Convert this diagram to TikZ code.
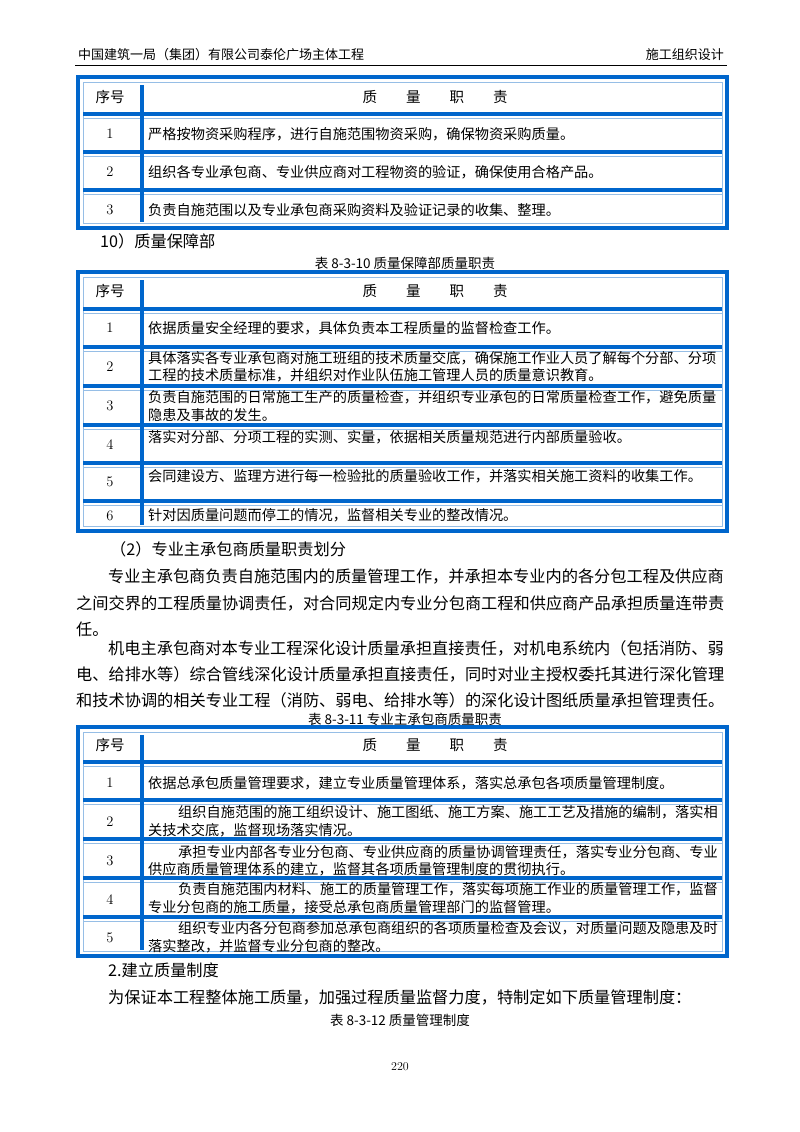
\documentclass[tikz,border=0pt]{standalone}
\usepackage{fontspec}
\newfontfamily\cjk{Noto Sans CJK SC}
\definecolor{tb}{RGB}{0,102,204}
\definecolor{tl}{RGB}{150,190,230}
\newcommand\mytable[3]{%
  \draw[tb,line width=3.5pt] (78,#1) rectangle (727,#2);
  \draw[tl,line width=0.7pt] (83,#1+5) rectangle (722,#2-5);
  \foreach \yy in {#3} {\draw[tb,line width=3.5pt] (83,\yy) -- (722,\yy);
    \draw[tl,line width=0.6pt] (83,\yy+4) -- (722,\yy+4);}
  \draw[tb,line width=3.5pt] (142,#1+8) -- (142,#2-6);
}
\begin{document}
\begin{tikzpicture}[x=1pt,y=-1pt,
  tt/.style={anchor=west,font=\cjk\fontsize{14.2}{18}\selectfont,inner sep=0},
  nn/.style={anchor=center,font=\fontsize{14.5}{18}\selectfont,inner sep=0},
  bt/.style={anchor=west,font=\cjk\fontsize{16.2}{20}\selectfont,inner sep=0},
  captxt/.style={anchor=center,font=\cjk\fontsize{13.5}{16}\selectfont,inner sep=0}]
\useasboundingbox[fill=white] (0,0) rectangle (800,1132);
% header
\node[anchor=west,font=\cjk\fontsize{13}{16}\selectfont,inner sep=0] (h1) at (78,55) {中国建筑一局（集团）有限公司泰伦广场主体工程};
\node[anchor=east,font=\cjk\fontsize{13}{16}\selectfont,inner sep=0] (h2) at (724,55) {施工组织设计};
\draw[line width=0.6pt] (75,65) -- (727,65);
% table 1
\mytable{77}{228}{114,152,190}
\node[nn] (t1h) at (110,97) {\cjk 序号};
\node[nn] (t1q) at (435,97) {\cjk 质\hspace{2em}量\hspace{2em}职\hspace{2em}责};
\node[nn] (t1n1) at (110,134) {1}; \node[tt] (t1r1) at (148,134) {严格按物资采购程序，进行自施范围物资采购，确保物资采购质量。};
\node[nn] (t1n2) at (110,172) {2}; \node[tt] (t1r2) at (148,172) {组织各专业承包商、专业供应商对工程物资的验证，确保使用合格产品。};
\node[nn] (t1n3) at (110,210) {3}; \node[tt] (t1r3) at (148,210) {负责自施范围以及专业承包商采购资料及验证记录的收集、整理。};
\node[bt] (s10) at (100,241) {10）质量保障部};
\node[captxt] (c10) at (405,263) {表 8-3-10 质量保障部质量职责};
% table 2
\mytable{272}{531}{309,347,386,425,463,501}
\node[nn] (t2h) at (110,291) {\cjk 序号};
\node[nn] (t2q) at (435,291) {\cjk 质\hspace{2em}量\hspace{2em}职\hspace{2em}责};
\node[nn] at (110,328) {1}; \node[tt] at (148,328) {依据质量安全经理的要求，具体负责本工程质量的监督检查工作。};
\node[nn] at (110,367) {2}; \node[tt] at (148,358) {具体落实各专业承包商对施工班组的技术质量交底，确保施工作业人员了解每个分部、分项};
\node[tt] at (148,375) {工程的技术质量标准，并组织对作业队伍施工管理人员的质量意识教育。};
\node[nn] at (110,406) {3}; \node[tt] at (148,397) {负责自施范围的日常施工生产的质量检查，并组织专业承包的日常质量检查工作，避免质量};
\node[tt] at (148,415) {隐患及事故的发生。};
\node[nn] at (110,445) {4}; \node[tt] at (148,437) {落实对分部、分项工程的实测、实量，依据相关质量规范进行内部质量验收。};
\node[nn] at (110,482) {5}; \node[tt] at (148,476) {会同建设方、监理方进行每一检验批的质量验收工作，并落实相关施工资料的收集工作。};
\node[nn] at (110,516) {6}; \node[tt] at (148,515) {针对因质量问题而停工的情况，监督相关专业的整改情况。};
\node[bt] (s2) at (110,549) {（2）专业主承包商质量职责划分};
\node[bt] at (108,576) {专业主承包商负责自施范围内的质量管理工作，并承担本专业内的各分包工程及供应商};
\node[bt] at (76,603) {之间交界的工程质量协调责任，对合同规定内专业分包商工程和供应商产品承担质量连带责};
\node[bt] at (76,629) {任。};
\node[bt] at (108,648) {机电主承包商对本专业工程深化设计质量承担直接责任，对机电系统内（包括消防、弱};
\node[bt] at (76,674) {电、给排水等）综合管线深化设计质量承担直接责任，同时对业主授权委托其进行深化管理};
\node[bt] at (76,700) {和技术协调的相关专业工程（消防、弱电、给排水等）的深化设计图纸质量承担管理责任。};
\node[captxt] (c11) at (405,719) {表 8-3-11 专业主承包商质量职责};
% table 3
\mytable{727}{956}{762,800,839,878,917}
\node[nn] (t3h) at (110,745) {\cjk 序号};
\node[nn] (t3q) at (435,745) {\cjk 质\hspace{2em}量\hspace{2em}职\hspace{2em}责};
\node[nn] at (110,783) {1}; \node[tt] at (148,783) {依据总承包质量管理要求，建立专业质量管理体系，落实总承包各项质量管理制度。};
\node[nn] at (110,822) {2}; \node[tt] at (178,812) {组织自施范围的施工组织设计、施工图纸、施工方案、施工工艺及措施的编制，落实相};
\node[tt] at (148,830) {关技术交底，监督现场落实情况。};
\node[nn] at (110,861) {3}; \node[tt] at (178,852) {承担专业内部各专业分包商、专业供应商的质量协调管理责任，落实专业分包商、专业};
\node[tt] at (148,869) {供应商质量管理体系的建立，监督其各项质量管理制度的贯彻执行。};
\node[nn] at (110,900) {4}; \node[tt] at (178,889) {负责自施范围内材料、施工的质量管理工作，落实每项施工作业的质量管理工作，监督};
\node[tt] at (148,907) {专业分包商的施工质量，接受总承包商质量管理部门的监督管理。};
\node[nn] at (110,938) {5}; \node[tt] at (178,928) {组织专业内各分包商参加总承包商组织的各项质量检查及会议，对质量问题及隐患及时};
\node[tt] at (148,946) {落实整改，并监督专业分包商的整改。};
\node[bt] (s3) at (108,970) {2.建立质量制度};
\node[bt] at (108,997) {为保证本工程整体施工质量，加强过程质量监督力度，特制定如下质量管理制度：};
\node[captxt] (c12) at (400,1020) {表 8-3-12 质量管理制度};
\node[nn] (pg) at (400,1067) {\fontsize{12}{14}\selectfont 220};
\end{tikzpicture}
\end{document}
